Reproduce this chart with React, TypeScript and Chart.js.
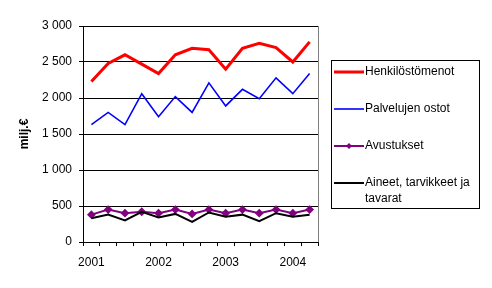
import React, { useEffect, useRef } from "react";
import { Chart, registerables } from "chart.js";

Chart.register(...registerables);

const categories = [
  "2001 Q1", "2001 Q2", "2001 Q3", "2001 Q4",
  "2002 Q1", "2002 Q2", "2002 Q3", "2002 Q4",
  "2003 Q1", "2003 Q2", "2003 Q3", "2003 Q4",
  "2004 Q1", "2004 Q2",
];
const tickLabels = ["2001", "", "", "", "2002", "", "", "", "2003", "", "", "", "2004", ""];

const henkilostomenot = [2230, 2480, 2600, 2470, 2340, 2600, 2690, 2670, 2400, 2690, 2760, 2700, 2500, 2780];
const palvelujenOstot = [1630, 1800, 1630, 2060, 1740, 2020, 1800, 2210, 1890, 2120, 1990, 2280, 2060, 2340];
const avustukset = [380, 450, 400, 420, 400, 450, 390, 450, 400, 450, 400, 450, 400, 450];
const aineet = [330, 380, 300, 420, 340, 390, 280, 410, 350, 380, 290, 400, 350, 380];

const seriesNames = ["Henkilöstömenot", "Palvelujen ostot", "Avustukset", "Aineet, tarvikkeet ja tavarat"];
const yAxisTitle = "milj.€";

const FONT = "'Liberation Sans', Arial, sans-serif";

const extrasPlugin = {
  id: "extras",
  afterDraw(chart: any) {
    const ctx = chart.ctx as CanvasRenderingContext2D;
    const area = chart.chartArea;
    ctx.save();
    // right border of plot area (gray)
    ctx.strokeStyle = "#808080";
    ctx.lineWidth = 1;
    ctx.beginPath();
    ctx.moveTo(Math.round(area.right) + 0.5, area.top);
    ctx.lineTo(Math.round(area.right) + 0.5, area.bottom);
    ctx.stroke();

    // y axis title
    ctx.fillStyle = "#000";
    ctx.font = `bold 12px ${FONT}`;
    ctx.textAlign = "center";
    ctx.textBaseline = "middle";
    ctx.translate(25, 134);
    ctx.rotate(-Math.PI / 2);
    ctx.fillText(yAxisTitle, 0, 0);
    ctx.restore();

    // legend
    ctx.save();
    const bx = 331.5, by = 60.5, bw = 148, bh = 148;
    ctx.strokeStyle = "#000";
    ctx.lineWidth = 1;
    ctx.strokeRect(bx, by, bw, bh);
    ctx.font = `12px ${FONT}`;
    ctx.textAlign = "left";
    ctx.textBaseline = "middle";
    const items = chart.data.datasets;
    const rowsY = [72, 109, 146, 183];
    items.forEach((ds: any, i: number) => {
      const y = rowsY[i];
      ctx.strokeStyle = ds.borderColor;
      ctx.lineWidth = ds.borderWidth;
      ctx.beginPath();
      ctx.moveTo(334, y);
      ctx.lineTo(364, y);
      ctx.stroke();
      if (ds.pointRadius > 0) {
        ctx.fillStyle = ds.borderColor;
        ctx.beginPath();
        ctx.moveTo(349, y - 3);
        ctx.lineTo(352, y);
        ctx.lineTo(349, y + 3);
        ctx.lineTo(346, y);
        ctx.closePath();
        ctx.fill();
      }
      ctx.fillStyle = "#000";
      const label: string = ds.label;
      if (i === 3) {
        ctx.fillText("Aineet, tarvikkeet ja", 365, y);
        ctx.fillText("tavarat", 365, y + 16);
      } else {
        ctx.fillText(label, 365, y);
      }
    });
    ctx.restore();
  },
};

export default function App() {
  const ref = useRef<HTMLCanvasElement>(null);
  useEffect(() => {
    document.body.style.margin = "0";
    const canvas = ref.current!;
    const chart = new Chart(canvas, {
      type: "line",
      data: {
        labels: categories,
        datasets: [
          { label: seriesNames[0], data: henkilostomenot, borderColor: "#FF0000", backgroundColor: "#FF0000", borderWidth: 3, pointRadius: 0, tension: 0, order: 3 },
          { label: seriesNames[1], data: palvelujenOstot, borderColor: "#0000FF", backgroundColor: "#0000FF", borderWidth: 1.6, pointRadius: 0, tension: 0, order: 2 },
          { label: seriesNames[2], data: avustukset, borderColor: "#800080", backgroundColor: "#800080", borderWidth: 2, pointRadius: 3, pointStyle: "rectRot", pointHoverRadius: 3, tension: 0, order: 1 },
          { label: seriesNames[3], data: aineet, borderColor: "#000000", backgroundColor: "#000000", borderWidth: 2, pointRadius: 0, tension: 0, order: 0 },
        ],
      },
      options: {
        responsive: false,
        animation: false,
        events: [],
        layout: { padding: { left: 0, top: 26, right: 174, bottom: 0 } },
        plugins: { legend: { display: false }, tooltip: { enabled: false } },
        scales: {
          x: {
            type: "category",
            offset: true,
            grid: { offset: true, drawOnChartArea: false, drawTicks: true, tickLength: 4, color: "#000" },
            border: { color: "#000", width: 1 },
            ticks: {
              autoSkip: false,
              maxRotation: 0,
              padding: 9,
              color: "#000",
              font: { family: FONT, size: 12 },
              callback: (_v: any, i: number) => tickLabels[i],
            },
            afterFit: (s: any) => { s.height = 46; },
          },
          y: {
            min: 0,
            max: 3000,
            grid: { color: "#000", lineWidth: 1, tickLength: 4, drawTicks: true },
            border: { color: "#000", width: 1 },
            ticks: {
              stepSize: 500,
              padding: 7,
              color: "#000",
              font: { family: FONT, size: 12 },
              callback: (v: any) => {
                const n = Number(v);
                return n >= 1000 ? `${Math.floor(n / 1000)} ${String(n % 1000).padStart(3, "0")}` : String(n);
              },
            },
            afterFit: (s: any) => { s.width = 83; },
          },
        },
      },
      plugins: [extrasPlugin],
    });
    return () => chart.destroy();
  }, []);
  return (
    <div style={{ position: "absolute", left: 0, top: 0, width: 492, height: 288, background: "#fff" }}>
      <canvas ref={ref} width={492} height={288} />
    </div>
  );
}
